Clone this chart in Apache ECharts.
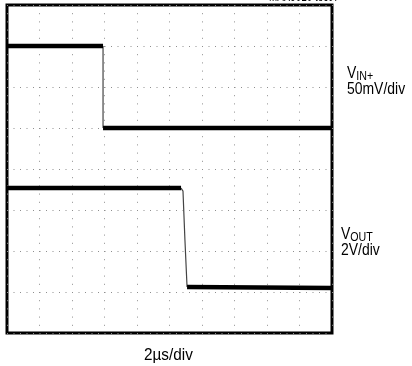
<!DOCTYPE html>
<html>
<head>
<meta charset="utf-8">
<script src="https://cdn.jsdelivr.net/npm/echarts@6/dist/echarts.min.js"></script>
<style>
  html, body { margin: 0; padding: 0; background: #fff; }
  #chart { width: 412px; height: 366px; }
</style>
</head>
<body>
<div id="chart"></div>
<script>
// Scope screen: 10 horizontal divisions at 2 µs/div, 8 vertical divisions.
const timeDivUs = 2;
const xDivisions = 10;
const yDivisions = 8;

// Input trace (50mV/div), 0 mV reference sits 5 divisions up the screen.
const vinScaleMv = 50;
const vinOffsetDiv = 5;
const vinTimeUs = [0, 5.91, 5.91, 20];
const vinMv = [100, 100, 0, 0];

// Output trace (2V/div), 0 V reference sits 1 division up the screen.
const voutScaleV = 2;
const voutOffsetDiv = 1;
const voutTimeUs = [0, 10.71, 10.83, 10.95, 11.08, 20];
const voutV = [5.07, 5.07, 4.92, 2.54, 0.24, 0.2];

// Which samples belong to the flat (noisy, thick) parts and the fast edge.
const vinFlatRanges = [[0, 1], [2, 3]];
const vinEdgeRange = [1, 2];
const voutFlatRanges = [[0, 1], [4, 5]];
const voutEdgeRange = [1, 4];

const toPoints = (t, v, scale, offset, from, to) => {
  const pts = [];
  for (let i = from; i <= to; i++) pts.push([t[i], v[i] / scale + offset]);
  return pts;
};

const gridDot = '#8e8e8e';
const font = '"Liberation Sans", Arial, sans-serif';
// Condensed look: plain sans squeezed horizontally.
const squeeze = 0.82;

const series = [];
const addTrace = (t, v, scale, offset, flats, edge) => {
  flats.forEach(([a, b]) => series.push({
    type: 'line', symbol: 'none', silent: true, z: 3,
    data: toPoints(t, v, scale, offset, a, b),
    lineStyle: { color: '#000', width: 4.5 }
  }));
  series.push({
    type: 'line', symbol: 'none', silent: true, z: 2,
    data: toPoints(t, v, scale, offset, edge[0], edge[1]),
    lineStyle: { color: '#444', width: 1.2 }
  });
};
addTrace(vinTimeUs, vinMv, vinScaleMv, vinOffsetDiv, vinFlatRanges, vinEdgeRange);
addTrace(voutTimeUs, voutV, voutScaleV, voutOffsetDiv, voutFlatRanges, voutEdgeRange);

const labelRich = {
  v: { font: '17px ' + font, fill: '#000', lineHeight: 17 },
  s: { font: '13px ' + font, fill: '#000', padding: [6, 0, 0, 0], lineHeight: 17 },
  n: { font: '17px ' + font, fill: '#000', lineHeight: 15 }
};

const chart = echarts.init(document.getElementById('chart'), null, { renderer: 'canvas' });
chart.setOption({
  animation: false,
  backgroundColor: '#fff',
  grid: {
    left: 7, top: 5, width: 325, height: 328,
    show: true, borderColor: '#000', borderWidth: 3, backgroundColor: 'transparent'
  },
  xAxis: {
    type: 'value', min: 0, max: timeDivUs * xDivisions, interval: timeDivUs,
    axisLine: { show: false }, axisTick: { show: false }, axisLabel: { show: false },
    splitLine: { show: true, lineStyle: { color: gridDot, width: 1, type: [1, 7.2] } }
  },
  yAxis: {
    type: 'value', min: 0, max: yDivisions, interval: 1,
    axisLine: { show: false }, axisTick: { show: false }, axisLabel: { show: false },
    splitLine: { show: true, lineStyle: { color: gridDot, width: 1, type: [1, 5.5] } }
  },
  series: series,
  graphic: [
    {
      type: 'text', x: 269, y: -8, scaleX: squeeze,
      style: { text: 'MAX9010 toc07', font: '12px ' + font, fill: '#000' }
    },
    {
      type: 'text', x: 347, y: 65, scaleX: squeeze,
      style: { text: '{v|V}{s|IN+}\n{n|50mV/div}', rich: labelRich }
    },
    {
      type: 'text', x: 341, y: 226, scaleX: squeeze,
      style: { text: '{v|V}{s|OUT}\n{n|2V/div}', rich: labelRich }
    },
    {
      type: 'text', x: 144, y: 347, scaleX: 0.9,
      style: { text: '2µs/div', font: '17px ' + font, fill: '#000' }
    }
  ]
});
</script>
</body>
</html>
